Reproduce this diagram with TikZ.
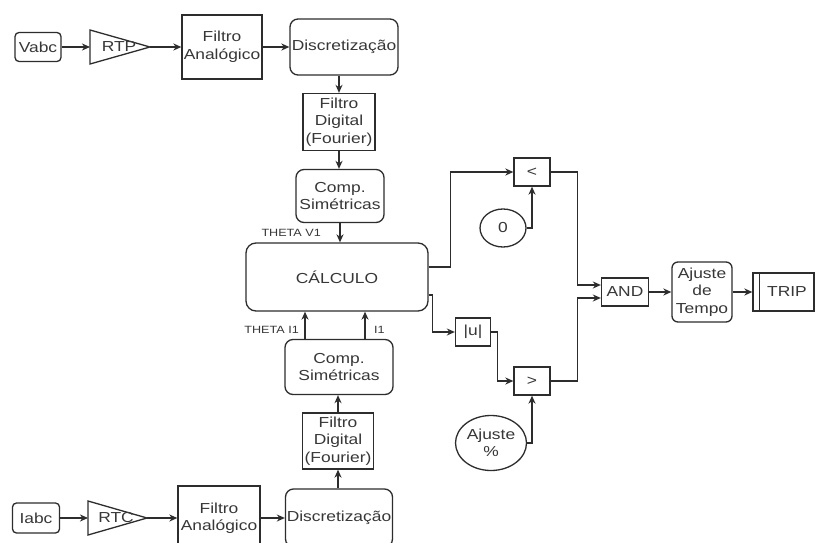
\documentclass[tikz,border=0pt]{standalone}
\usepackage{fontspec}
\setmainfont{Liberation Sans}[FakeStretch=1.2]
\usetikzlibrary{arrows.meta,shapes.geometric}
\definecolor{ln}{RGB}{45,45,45}
\definecolor{tx}{RGB}{55,55,55}
\tikzset{
  blk/.style={draw=ln,line width=1.3pt,fill=white,text=tx,inner sep=0pt,align=center,
    font=\fontsize{14.5}{17.5}\selectfont},
  sq/.style={blk},
  rnd/.style={blk,rounded corners=8pt},
  ell/.style={blk,ellipse},
  lbl/.style={text=tx,inner sep=0pt,font=\fontsize{10.5}{12}\selectfont},
  arr/.style={draw=ln,line width=1.3pt,-{Stealth[length=8pt,width=7pt,inset=2.5pt]}},
  wire/.style={draw=ln,line width=1.3pt},
}
\begin{document}
\begin{tikzpicture}[x=1pt,y=-1pt]
\useasboundingbox[fill=white] (0,0) rectangle (816,543);
% upper chain
\node[rnd,rounded corners=4pt,minimum width=46,minimum height=29] (vabc) at (38,47) {Vabc};
\draw[wire,fill=white] (90,30) -- (150,47) -- (90,64) -- cycle;
\coordinate (rtpin) at (90,47);
\coordinate (rtpout) at (150,47);
\node[blk,draw=none,fill=none] (rtp) at (119,47) {RTP};
\node[sq,minimum width=80,minimum height=64] (fa1) at (222,47) {Filtro\\Analógico};
\node[rnd,minimum width=108,minimum height=56] (disc1) at (344,47) {Discretização};
\node[sq,minimum width=72,minimum height=57] (fd1) at (339,122) {Filtro\\Digital\\(Fourier)};
\node[rnd,minimum width=88,minimum height=53] (cs1) at (340,196) {Comp.\\Simétricas};
\node[rnd,rounded corners=10pt,minimum width=182,minimum height=68] (calc) at (337,277) {CÁLCULO};
% lower chain
\node[rnd,minimum width=108,minimum height=55] (cs2) at (339,367) {Comp.\\Simétricas};
\node[sq,minimum width=71,minimum height=56] (fd2) at (338,441) {Filtro\\Digital\\(Fourier)};
\node[rnd,minimum width=107,minimum height=58] (disc2) at (339,518) {Discretização};
\node[sq,minimum width=82,minimum height=64] (fa2) at (219,518) {Filtro\\Analógico};
\node[rnd,rounded corners=4pt,minimum width=47,minimum height=30] (iabc) at (36,518) {Iabc};
\draw[wire,fill=white] (88,501) -- (147,518) -- (88,535) -- cycle;
\coordinate (rtcin) at (88,518);
\coordinate (rtcout) at (147,518);
\node[blk,draw=none,fill=none] (rtc) at (116,518) {RTC};
% labels
\node[lbl,anchor=east] (thv1) at (321,233) {THETA V1};
\node[lbl,anchor=east] (thi1) at (299,330) {THETA I1};
\node[lbl,anchor=west] (i1) at (374,330) {I1};
% right side
\node[sq,minimum width=36,minimum height=28] (lt) at (532,172) {<};
\node[ell,minimum width=46,minimum height=38] (zero) at (503,228) {0};
\node[sq,minimum width=35,minimum height=28] (absu) at (473,332) {|u|};
\node[sq,minimum width=36,minimum height=28] (gt) at (532,381) {>};
\node[ell,minimum width=71,minimum height=55] (ajp) at (491,443) {Ajuste\\\%};
\node[sq,minimum width=47,minimum height=28] (and) at (625,292) {AND};
\node[rnd,rounded corners=6pt,minimum width=60,minimum height=60] (ajt) at (702,292) {Ajuste\\de\\Tempo};
\node[sq,minimum width=61,minimum height=38,text width=54,align=center] (trip) at (783.5,292) {\hspace*{7pt}TRIP};
\draw[wire] ([xshift=7pt]trip.north west) -- ([xshift=7pt]trip.south west);
% connectors upper
\draw[arr] (vabc.east) -- (rtpin);
\draw[arr] (rtpout) -- (fa1.west);
\draw[arr] (fa1.east) -- (disc1.west);
\draw[arr] (fd1.north |- disc1.south) -- (fd1.north);
\draw[arr] (fd1.south) -- (fd1.south |- cs1.north);
\draw[arr] (cs1.south) -- (cs1.south |- calc.north);
% connectors lower
\draw[arr] (iabc.east) -- (rtcin);
\draw[arr] (rtcout) -- (fa2.west);
\draw[arr] (fa2.east) -- (disc2.west);
\draw[arr] (fd2.south |- disc2.north) -- (fd2.south);
\draw[arr] (fd2.north) -- (fd2.north |- cs2.south);
\draw[arr] ([xshift=-34pt]cs2.north) -- ([xshift=-34pt]cs2.north |- calc.south);
\draw[arr] ([xshift=26pt]cs2.north) -- ([xshift=26pt]cs2.north |- calc.south);
% logic
\draw[arr] ([yshift=10pt]calc.east) -- ++(22,0) |- (lt.west);
\draw[arr] ([yshift=-18pt]calc.east) -- ++(4,0) |- (absu.west);
\draw[arr] (absu.east) -- ++(6,0) |- (gt.west);
\draw[arr] (zero.east) -| (lt.south);
\draw[arr] (ajp.east) -| (gt.south);
\draw[arr] (lt.east) -- ++(27,0) |- ([yshift=7pt]and.west);
\draw[arr] (gt.east) -- ++(27,0) |- ([yshift=-6pt]and.west);
\draw[arr] (and.east) -- (ajt.west);
\draw[arr] (ajt.east) -- (trip.west);
\end{tikzpicture}
\end{document}
